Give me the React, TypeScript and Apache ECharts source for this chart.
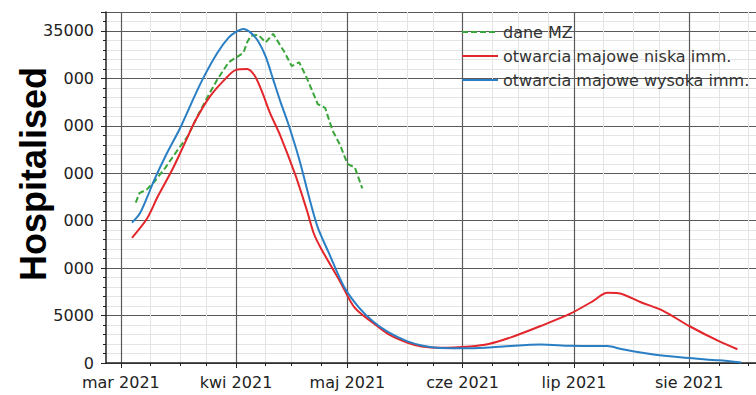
import React, { useEffect, useRef } from "react";
import * as echarts from "echarts";

// ---- data ----
const xStart = "2021-02-25";
const xEnd = "2021-08-19";
const xTickDates = ["2021-03-01", "2021-04-01", "2021-05-01", "2021-06-01", "2021-07-01", "2021-08-01"];
const xTickLabels = ["mar 2021", "kwi 2021", "maj 2021", "cze 2021", "lip 2021", "sie 2021"];
const yTickValues = [0, 5000, 10000, 15000, 20000, 25000, 30000, 35000];

const seriesNames = ["dane MZ", "otwarcia majowe niska imm.", "otwarcia majowe wysoka imm."];

const mzDates = [
  "2021-03-05", "2021-03-06", "2021-03-08", "2021-03-10", "2021-03-13", "2021-03-16", "2021-03-19",
  "2021-03-22", "2021-03-24", "2021-03-27", "2021-03-30", "2021-04-01", "2021-04-03", "2021-04-04",
  "2021-04-05", "2021-04-07", "2021-04-09", "2021-04-11", "2021-04-14", "2021-04-16", "2021-04-18",
  "2021-04-20", "2021-04-23", "2021-04-25", "2021-04-27", "2021-04-29", "2021-05-01", "2021-05-03",
  "2021-05-05",
];
const mzValues = [
  16900, 17900, 18300, 19100, 20600, 22300, 23900,
  26300, 27800, 29900, 31700, 32200, 32700, 33800,
  34500, 34600, 33800, 34700, 32800, 31300, 31700,
  30100, 27300, 26900, 24500, 23000, 21000, 20600,
  18400,
];

const lowDates = [
  "2021-03-04", "2021-03-08", "2021-03-11", "2021-03-15", "2021-03-18", "2021-03-21", "2021-03-25",
  "2021-03-29", "2021-04-01", "2021-04-04", "2021-04-06", "2021-04-08", "2021-04-10", "2021-04-13",
  "2021-04-17", "2021-04-20", "2021-04-22", "2021-04-24", "2021-04-29", "2021-05-03", "2021-05-08",
  "2021-05-12", "2021-05-17", "2021-05-21", "2021-05-26", "2021-06-03", "2021-06-08", "2021-06-14",
  "2021-06-22", "2021-06-30", "2021-07-06", "2021-07-10", "2021-07-13", "2021-07-19", "2021-07-25",
  "2021-08-01", "2021-08-09", "2021-08-14",
];
const lowValues = [
  13200, 15200, 17600, 20500, 23000, 25500, 28100,
  29900, 30900, 31000, 30300, 28600, 26500, 23900,
  19800, 16200, 13600, 12000, 8600, 5800, 4200,
  3050, 2150, 1750, 1620, 1750, 2000, 2700,
  3900, 5200, 6500, 7400, 7350, 6400, 5500,
  3900, 2300, 1450,
];

const highDates = [
  "2021-03-04", "2021-03-06", "2021-03-08", "2021-03-10", "2021-03-13", "2021-03-17", "2021-03-20",
  "2021-03-23", "2021-03-27", "2021-03-30", "2021-04-01", "2021-04-03", "2021-04-05", "2021-04-07",
  "2021-04-09", "2021-04-11", "2021-04-13", "2021-04-15", "2021-04-18", "2021-04-21", "2021-04-23",
  "2021-04-26", "2021-04-30", "2021-05-04", "2021-05-08", "2021-05-12", "2021-05-17", "2021-05-21",
  "2021-05-26", "2021-06-03", "2021-06-12", "2021-06-22", "2021-06-30", "2021-07-10", "2021-07-14",
  "2021-07-22", "2021-07-31", "2021-08-09", "2021-08-15",
];
const highValues = [
  14800, 15700, 17400, 19300, 21800, 24800, 27400,
  29900, 32700, 34300, 34900, 35200, 34800, 33900,
  32300, 29900, 27500, 25300, 21500, 17000, 14300,
  11600, 8100, 5900, 4350, 3250, 2300, 1850,
  1580, 1550, 1750, 1950, 1820, 1780, 1450,
  920, 560, 280, 50,
];

// ---- helpers ----
const DAY = 86400000;
function iso(t: number) {
  return new Date(t).toISOString().slice(0, 10);
}
function buildCategories(a: string, b: string) {
  const out: string[] = [];
  const t0 = Date.parse(a + "T00:00:00Z");
  const t1 = Date.parse(b + "T00:00:00Z");
  for (let t = t0; t <= t1; t += DAY) out.push(iso(t));
  return out;
}
function buildMinor(starts: string[]) {
  const set = new Set<string>();
  starts.forEach((s) => {
    const t = Date.parse(s + "T00:00:00Z");
    const d = new Date(t);
    const next = Date.UTC(d.getUTCFullYear(), d.getUTCMonth() + 1, 1);
    const len = Math.round((next - t) / DAY);
    for (let k = 1; k <= 3; k++) set.add(iso(t + Math.round((len * k) / 4) * DAY));
  });
  return set;
}
const zip = (d: string[], v: number[]) => d.map((x, i) => [x, v[i]]);

export default function App() {
  const ref = useRef<HTMLDivElement>(null);
  useEffect(() => {
    if (!ref.current) return;
    const chart = echarts.init(ref.current, null, { renderer: "svg" });
    const cats = buildCategories(xStart, xEnd);
    const majorSet = new Set(xTickDates);
    const minorSet = buildMinor(xTickDates);
    const labelMap: Record<string, string> = {};
    xTickDates.forEach((d, i) => (labelMap[d] = xTickLabels[i]));
    const ySet = new Set(yTickValues);
    const font = "DejaVu Sans";
    const ink = "#222";

    chart.setOption({
      animation: false,
      backgroundColor: "#fff",
      grid: { left: 106, right: 0, top: 12, bottom: 32, containLabel: false },
      legend: {
        orient: "vertical",
        left: 456,
        top: 19,
        itemWidth: 36,
        itemHeight: 14,
        itemGap: 8,
        itemStyle: { opacity: 0 },
        textStyle: { fontFamily: font, fontSize: 16, color: "#333" },
        data: seriesNames,
      },
      xAxis: [
        {
          type: "category",
          position: "bottom",
          data: cats,
          boundaryGap: false,
          axisLine: { show: false },
          axisTick: { show: true, length: 3, interval: (_i: number, v: string) => minorSet.has(v), lineStyle: { color: ink } },
          axisLabel: { show: false },
          splitLine: { show: true, interval: (_i: number, v: string) => minorSet.has(v), lineStyle: { color: "#e4e4e4", width: 1 } },
        },
        {
          type: "category",
          position: "bottom",
          data: cats,
          boundaryGap: false,
          axisLine: { show: true, lineStyle: { color: ink, width: 1.5 } },
          axisTick: { show: true, length: 5, interval: (_i: number, v: string) => majorSet.has(v), lineStyle: { color: ink } },
          axisLabel: {
            show: true,
            interval: (_i: number, v: string) => majorSet.has(v),
            formatter: (v: string) => labelMap[v] || "",
            fontFamily: font,
            fontSize: 16,
            color: ink,
            margin: 11,
          },
          splitLine: { show: true, interval: (_i: number, v: string) => majorSet.has(v), lineStyle: { color: "#5a5a5a", width: 1.2 } },
        },
      ],
      yAxis: [
        {
          type: "value",
          position: "left",
          min: 0,
          max: 37000,
          interval: 1000,
          axisLine: { show: false },
          axisTick: { show: true, length: 3, lineStyle: { color: ink } },
          axisLabel: { show: false },
          splitLine: { show: true, lineStyle: { color: "#e4e4e4", width: 1 } },
        },
        {
          type: "value",
          position: "left",
          min: 0,
          max: 37000,
          interval: 5000,
          axisLine: { show: true, lineStyle: { color: ink, width: 1.5 } },
          axisTick: { show: true, length: 5, lineStyle: { color: ink } },
          axisLabel: {
            formatter: (v: number) => (ySet.has(v) ? String(v) : ""),
            fontFamily: font,
            fontSize: 16,
            color: ink,
            margin: 12,
          },
          splitLine: { show: true, lineStyle: { color: "#5a5a5a", width: 1.2 } },
        },
      ],
      graphic: [
        { type: "rect", z: 100, shape: { x: 0, y: 62, width: 63, height: 228 }, style: { fill: "#fff" } },
        {
          type: "text",
          z: 101,
          x: 33,
          y: 174,
          rotation: Math.PI / 2,
          style: {
            text: "Hospitalised",
            font: 'bold 36px "Liberation Sans", Arial, sans-serif',
            fill: "#000",
            align: "center",
            verticalAlign: "middle",
            textAlign: "center",
            textVerticalAlign: "middle",
          },
        },
      ],
      series: [
        {
          name: seriesNames[0],
          type: "line",
          xAxisIndex: 1,
          yAxisIndex: 1,
          data: zip(mzDates, mzValues),
          showSymbol: false,
          symbol: "none",
          lineStyle: { color: "#3aa63a", width: 2, type: [6, 3] },
          itemStyle: { color: "#3aa63a" },
        },
        {
          name: seriesNames[1],
          type: "line",
          xAxisIndex: 1,
          yAxisIndex: 1,
          data: zip(lowDates, lowValues),
          showSymbol: false,
          symbol: "none",
          smooth: 0.3,
          lineStyle: { color: "#e3262b", width: 2 },
          itemStyle: { color: "#e3262b" },
        },
        {
          name: seriesNames[2],
          type: "line",
          xAxisIndex: 1,
          yAxisIndex: 1,
          data: zip(highDates, highValues),
          showSymbol: false,
          symbol: "none",
          smooth: 0.3,
          lineStyle: { color: "#2a7fc4", width: 2 },
          itemStyle: { color: "#2a7fc4" },
        },
      ],
    });
    return () => chart.dispose();
  }, []);
  return (
    <div
      ref={ref}
      style={{ position: "fixed", left: 0, top: 0, width: 756, height: 395, background: "#fff" }}
    />
  );
}
